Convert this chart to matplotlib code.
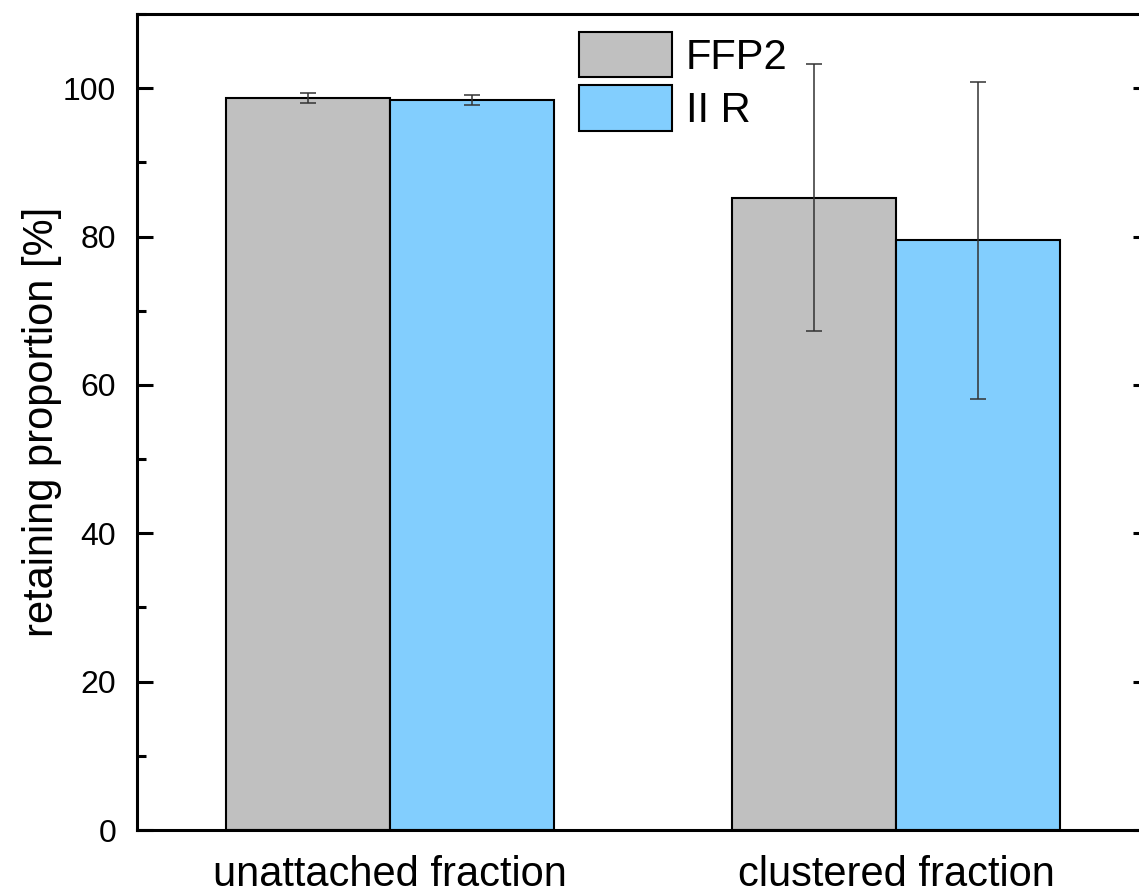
import numpy as np
import matplotlib
matplotlib.use("Agg")
import matplotlib.pyplot as plt

plt.rcParams['font.family'] = ['Liberation Sans', 'DejaVu Sans']

categories = ["unattached fraction", "clustered fraction"]
series = ["FFP2", "II R"]
ffp2_vals = [98.7, 85.2]
ffp2_err = [0.7, 18.0]
iir_vals = [98.4, 79.5]
iir_err = [0.7, 21.4]
colors = ["#c0c0c0", "#82cefe"]

fig = plt.figure(figsize=(11.39, 8.94), dpi=100)
# right spine sits just outside the picture, as in the original
ax = fig.add_axes([137 / 1139, 1 - 830 / 894, (1149 - 137) / 1139, (830 - 14) / 894])

x = np.arange(len(categories))
w = 0.325
err_kw = dict(ecolor="#333333", elinewidth=1.1, capsize=5.8, capthick=1.1)
ax.bar(x - w / 2, ffp2_vals, w, yerr=ffp2_err, color=colors[0], edgecolor="black",
       linewidth=1.5, label=series[0], error_kw=err_kw)
ax.bar(x + w / 2, iir_vals, w, yerr=iir_err, color=colors[1], edgecolor="black",
       linewidth=1.5, label=series[1], error_kw=err_kw)

ax.set_xlim(-0.5, 1.5)
ax.set_ylim(0, 110)
ax.set_xticks(x)
ax.set_xticklabels(categories, fontsize=30)
ax.tick_params(axis="x", length=0, pad=18)
ax.set_yticks(np.arange(0, 101, 20))
ax.set_yticks(np.arange(10, 111, 20), minor=True)
ax.tick_params(axis="y", which="both", direction="in", right=True, width=2.2,
               labelsize=23, pad=15)
ax.tick_params(axis="y", which="major", length=11.5)
ax.tick_params(axis="y", which="minor", length=6.5)
ax.set_ylabel("retaining proportion [%]", fontsize=30, labelpad=1)
for s in ax.spines.values():
    s.set_linewidth(2.2)

ax.legend(loc="upper left", bbox_to_anchor=(0.4368, 0.978), frameon=False,
          fontsize=30, borderpad=0, borderaxespad=0, handlelength=2.23,
          handleheight=1.3, handletextpad=0.34, labelspacing=0.18)

fig.savefig("out.png", dpi=100)
